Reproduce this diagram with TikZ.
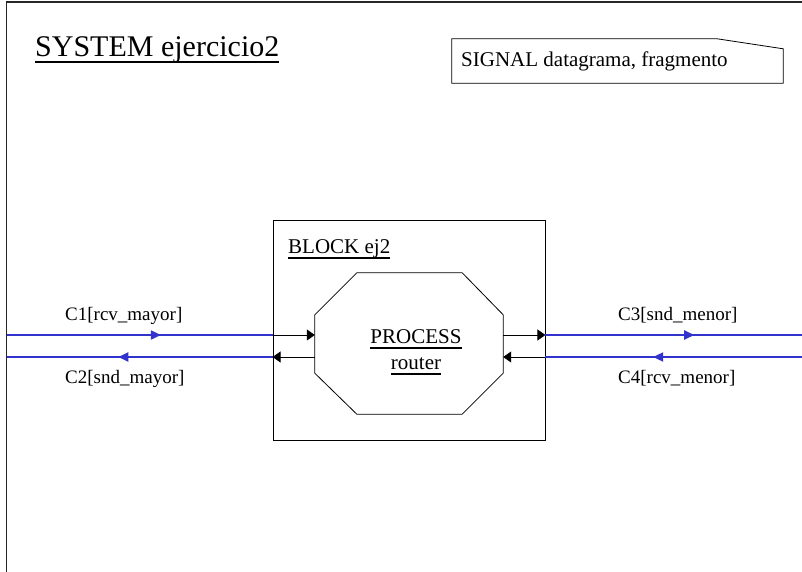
\documentclass[tikz,border=0pt]{standalone}
\usepackage{fontspec}
\setmainfont{Liberation Serif}
\usetikzlibrary{calc,positioning,arrows.meta,decorations.markings}

\definecolor{chanblue}{RGB}{50,50,205}

% SDL names are underlined with a heavy rule at a fixed depth
\newcommand\sdlul[1]{\setbox0\hbox{#1}\rlap{\rule[-6pt]{\wd0}{1.8pt}}\box0}

\tikzset{
  sdl/.style={inner sep=0pt, font=\fontsize{21}{25}\selectfont},
  chanlab/.style={inner sep=0pt, anchor=base west, font=\fontsize{19}{22}\selectfont},
  chan/.style={chanblue, line width=2pt},
  chanfwd/.style={chan, postaction={decorate}, decoration={markings,
      mark=at position 0.58 with {\arrow{Triangle[length=10pt,width=9pt]}}}},
  route/.style={black, line width=0.8pt, -{Triangle[length=8pt,width=11pt]}},
}

\begin{document}
\begin{tikzpicture}[x=1pt,y=-1pt]
  \useasboundingbox (0,0) rectangle (802,572);

  % system frame (open to the right and bottom)
  \coordinate (frametl) at (6.5,2);
  \draw[black!85, line width=1.2pt] (6.5,572) -- (frametl) -- (802,2);

  \node[sdl, anchor=base west, font=\fontsize{30}{36}\selectfont] (sys) at (35,57) {\sdlul{SYSTEM ejercicio2}};

  % signal declaration, top-right corner folded
  \node[sdl, minimum width=331pt, minimum height=44pt] (sig) at (617.5,61) {};
  \node[sdl, anchor=base west] (sigtxt) at (461,67) {SIGNAL datagrama, fragmento};
  \draw[line width=0.8pt] (sig.north west) -- ($(sig.north east)+(-66,0)$)
    -- ($(sig.north east)+(0,10)$) -- (sig.south east) -- (sig.south west) -- cycle;

  % block
  \node[draw, line width=0.8pt, minimum width=272pt, minimum height=220pt] (blk) at (409,330) {};
  \node[sdl, anchor=base west] (blklab) at (288,253) {\sdlul{BLOCK ej2}};

  % process (octagon)
  \node[minimum width=188pt, minimum height=141pt, inner sep=0pt] (proc) at (409,343.5) {};
  \draw[line width=0.8pt] ($(proc.north west)+(42,0)$) -- ($(proc.north east)+(-41,0)$)
    -- ($(proc.north east)+(0,42)$) -- ($(proc.south east)+(0,-41)$)
    -- ($(proc.south east)+(-41,0)$) -- ($(proc.south west)+(42,0)$)
    -- ($(proc.south west)+(0,-41)$) -- ($(proc.north west)+(0,42)$) -- cycle;
  \node[sdl, anchor=base] (pname) at (416,343) {\sdlul{PROCESS}};
  \node[sdl, anchor=base] (pid) at (416,369) {\sdlul{router}};

  % channel ends
  \coordinate (c1) at (6.5,335);
  \coordinate (c2) at (6.5,357);
  \coordinate (c3) at (802,335);
  \coordinate (c4) at (802,357);

  % channels to the left
  \draw[chanfwd] (c1) -- (c1 -| blk.west);
  \draw[chanfwd] (c2 -| blk.west) -- (c2);
  \draw[route] (c1 -| blk.west) -- (c1 -| proc.west);
  \draw[route] (c2 -| proc.west) -- (c2 -| blk.west);
  \node[chanlab] (c1lab) at (65,320) {C1[rcv\_mayor]};
  \node[chanlab] (c2lab) at (65,383) {C2[snd\_mayor]};

  % channels to the right
  \draw[chanfwd] (c3 -| blk.east) -- (c3);
  \draw[chanfwd] (c4) -- (c4 -| blk.east);
  \draw[route] (c3 -| proc.east) -- (c3 -| blk.east);
  \draw[route] (c4 -| blk.east) -- (c4 -| proc.east);
  \node[chanlab] (c3lab) at (618,320) {C3[snd\_menor]};
  \node[chanlab] (c4lab) at (618,383) {C4[rcv\_menor]};
\end{tikzpicture}
\end{document}
